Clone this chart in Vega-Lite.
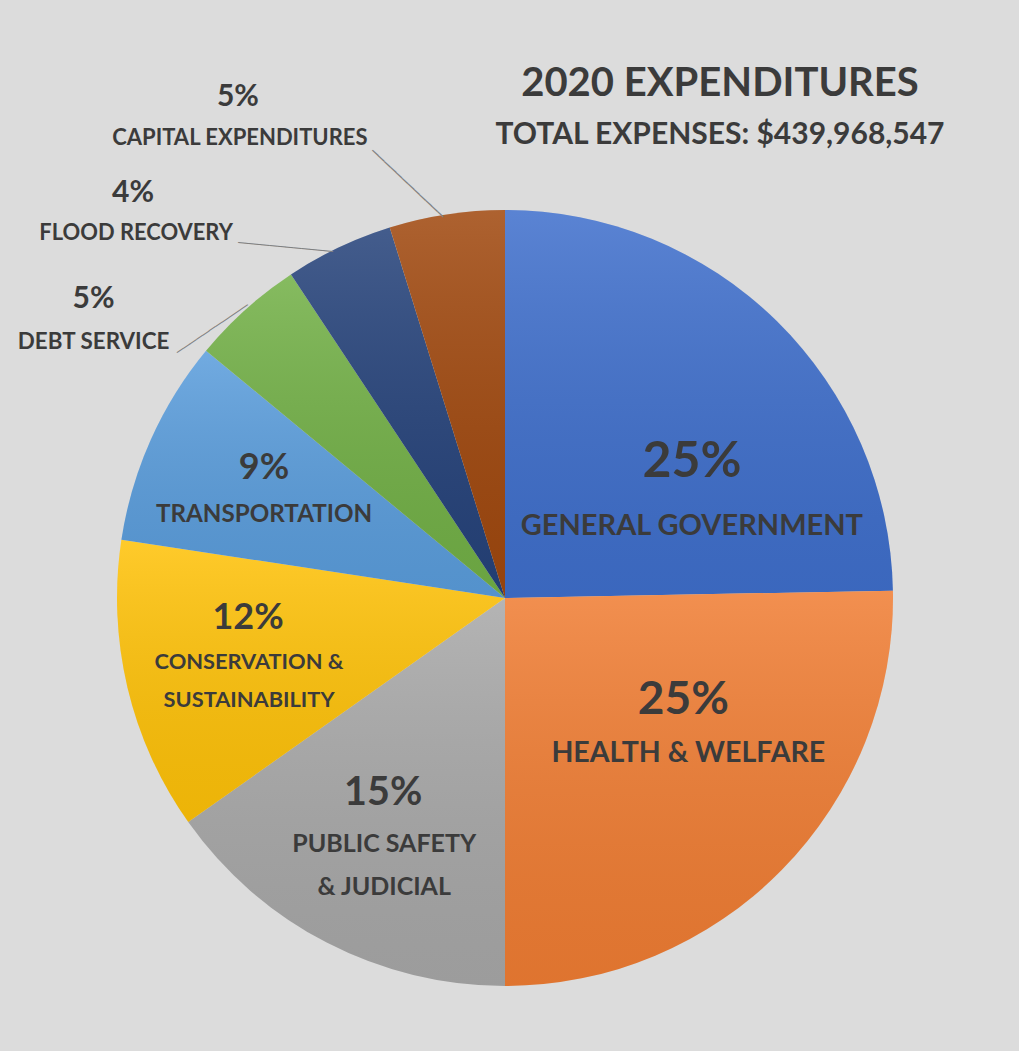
{
  "$schema": "https://vega.github.io/schema/vega-lite/v6.json",
  "autosize": "none",
  "width": 1010,
  "height": 856,
  "padding": {"left": 0, "right": 9, "top": 170, "bottom": 25},
  "background": "#dcdcdc",
  "config": {"view": {"stroke": null}, "font": "Lato"},
  "title": {
    "text": "2020 EXPENDITURES",
    "subtitle": "TOTAL EXPENSES: $439,968,547",
    "anchor": "middle",
    "frame": "group",
    "dx": 215,
    "offset": -68,
    "font": "Lato",
    "fontSize": 40,
    "fontWeight": "bold",
    "color": "#3b3b3b",
    "subtitleFont": "Lato",
    "subtitleFontSize": 30,
    "subtitleFontWeight": "bold",
    "subtitleColor": "#3b3b3b",
    "subtitlePadding": 16
  },
  "data": {
    "values": [
      {"order": 1, "name": "General Government", "value": 24.7, "pct": "25%", "label": "GENERAL GOVERNMENT"},
      {"order": 2, "name": "Health & Welfare", "value": 25.3, "pct": "25%", "label": "HEALTH & WELFARE"},
      {"order": 3, "name": "Public Safety & Judicial", "value": 15.2, "pct": "15%", "label": "PUBLIC SAFETY\n& JUDICIAL"},
      {"order": 4, "name": "Conservation & Sustainability", "value": 12.2, "pct": "12%", "label": "CONSERVATION &\nSUSTAINABILITY"},
      {"order": 5, "name": "Transportation", "value": 8.6, "pct": "9%", "label": "TRANSPORTATION"},
      {"order": 6, "name": "Debt Service", "value": 4.7, "pct": "5%", "label": "DEBT SERVICE"},
      {"order": 7, "name": "Flood Recovery", "value": 4.5, "pct": "4%", "label": "FLOOD RECOVERY"},
      {"order": 8, "name": "Capital Expenditures", "value": 4.8, "pct": "5%", "label": "CAPITAL EXPENDITURES"}
    ]
  },
  "encoding": {
    "theta": {"field": "value", "type": "quantitative", "stack": true},
    "order": {"field": "order", "type": "quantitative"}
  },
  "layer": [
    {
      "mark": {"type": "arc", "radius": 388},
      "encoding": {
        "color": {
          "field": "name",
          "type": "nominal",
          "legend": null,
          "scale": {
            "domain": ["General Government", "Health & Welfare", "Public Safety & Judicial", "Conservation & Sustainability", "Transportation", "Debt Service", "Flood Recovery", "Capital Expenditures"],
            "range": ["#3f6fcc", "#f07d33", "#a8a8a8", "#ffc208", "#5a9ddc", "#72b046", "#25427a", "#a0480e"]
          }
        }
      }
    },
    {
      "mark": {
        "type": "arc",
        "radius": 388,
        "fill": {
          "gradient": "linear", "x1": 0, "y1": 0, "x2": 0, "y2": 1,
          "stops": [
            {"offset": 0, "color": "rgba(255,255,255,0.14)"},
            {"offset": 1, "color": "rgba(0,0,0,0.07)"}
          ]
        }
      },
      "encoding": {"detail": {"field": "name"}}
    },
    {
      "mark": {"type": "text", "radius": 419, "angle": 43.3, "dx": -25, "dy": 24, "font": "DejaVu Sans Mono", "fontSize": 13.5, "color": "#808080", "baseline": "middle", "align": "center"},
      "encoding": {"detail": {"field": "name"}, "text": {"condition": {"test": "datum.order == 8", "value": "────────────"}, "value": ""}}
    },
    {
      "mark": {"type": "text", "radius": 388, "angle": 5.4, "dx": -53, "dy": 5, "font": "DejaVu Sans Mono", "fontSize": 13.2, "color": "#808080", "baseline": "middle", "align": "center"},
      "encoding": {"detail": {"field": "name"}, "text": {"condition": {"test": "datum.order == 7", "value": "────────────"}, "value": ""}}
    },
    {
      "mark": {"type": "text", "radius": 362, "angle": -34.1, "dx": -42, "dy": -28, "font": "DejaVu Sans Mono", "fontSize": 12.9, "color": "#808080", "baseline": "middle", "align": "center"},
      "encoding": {"detail": {"field": "name"}, "text": {"condition": {"test": "datum.order == 6", "value": "───────────"}, "value": ""}}
    },
    {
      "mark": {"type": "text", "radius": 214, "dx": 37, "dy": 17, "fontSize": 50, "fontWeight": "bold", "color": "#3b3b3b", "baseline": "middle", "align": "center"},
      "encoding": {"detail": {"field": "name"}, "text": {"condition": {"test": "datum.order == 1", "field": "pct", "type": "nominal"}, "value": ""}}
    },
    {
      "mark": {"type": "text", "radius": 214, "dx": 37, "dy": 81, "fontSize": 29, "fontWeight": "bold", "color": "#3b3b3b", "baseline": "middle", "align": "center"},
      "encoding": {"detail": {"field": "name"}, "text": {"condition": {"test": "datum.order == 1", "field": "label", "type": "nominal"}, "value": ""}}
    },
    {
      "mark": {"type": "text", "radius": 240, "dx": 7, "dy": -66, "fontSize": 46, "fontWeight": "bold", "color": "#3b3b3b", "baseline": "middle", "align": "center"},
      "encoding": {"detail": {"field": "name"}, "text": {"condition": {"test": "datum.order == 2", "field": "pct", "type": "nominal"}, "value": ""}}
    },
    {
      "mark": {"type": "text", "radius": 240, "dx": 12, "dy": -13, "fontSize": 28.5, "fontWeight": "bold", "color": "#3b3b3b", "baseline": "middle", "align": "center"},
      "encoding": {"detail": {"field": "name"}, "text": {"condition": {"test": "datum.order == 2", "field": "label", "type": "nominal"}, "value": ""}}
    },
    {
      "mark": {"type": "text", "radius": 265, "dx": 0, "dy": -40, "fontSize": 39.5, "fontWeight": "bold", "color": "#3b3b3b", "baseline": "middle", "align": "center"},
      "encoding": {"detail": {"field": "name"}, "text": {"condition": {"test": "datum.order == 3", "field": "pct", "type": "nominal"}, "value": ""}}
    },
    {
      "mark": {"type": "text", "radius": 265, "dx": 1, "dy": 11, "fontSize": 25, "lineBreak": "\n", "lineHeight": 43, "fontWeight": "bold", "color": "#3b3b3b", "baseline": "middle", "align": "center"},
      "encoding": {"detail": {"field": "name"}, "text": {"condition": {"test": "datum.order == 3", "field": "label", "type": "nominal"}, "value": ""}}
    },
    {
      "mark": {"type": "text", "radius": 262, "dx": -2, "dy": -40, "fontSize": 36, "fontWeight": "bold", "color": "#3b3b3b", "baseline": "middle", "align": "center"},
      "encoding": {"detail": {"field": "name"}, "text": {"condition": {"test": "datum.order == 4", "field": "pct", "type": "nominal"}, "value": ""}}
    },
    {
      "mark": {"type": "text", "radius": 262, "dx": -1, "dy": 4, "fontSize": 21.8, "lineBreak": "\n", "lineHeight": 38, "fontWeight": "bold", "color": "#3b3b3b", "baseline": "middle", "align": "center"},
      "encoding": {"detail": {"field": "name"}, "text": {"condition": {"test": "datum.order == 4", "field": "label", "type": "nominal"}, "value": ""}}
    },
    {
      "mark": {"type": "text", "radius": 264, "dx": 0, "dy": -22, "fontSize": 36, "fontWeight": "bold", "color": "#3b3b3b", "baseline": "middle", "align": "center"},
      "encoding": {"detail": {"field": "name"}, "text": {"condition": {"test": "datum.order == 5", "field": "pct", "type": "nominal"}, "value": ""}}
    },
    {
      "mark": {"type": "text", "radius": 264, "dx": 0, "dy": 25, "fontSize": 24.2, "fontWeight": "bold", "color": "#3b3b3b", "baseline": "middle", "align": "center"},
      "encoding": {"detail": {"field": "name"}, "text": {"condition": {"test": "datum.order == 5", "field": "label", "type": "nominal"}, "value": ""}}
    },
    {
      "mark": {"type": "text", "radius": 430, "dx": -124, "dy": 21, "fontSize": 30, "fontWeight": "bold", "color": "#3b3b3b", "baseline": "middle", "align": "center"},
      "encoding": {"detail": {"field": "name"}, "text": {"condition": {"test": "datum.order == 6", "field": "pct", "type": "nominal"}, "value": ""}}
    },
    {
      "mark": {"type": "text", "radius": 430, "dx": -124, "dy": 64, "fontSize": 22.4, "fontWeight": "bold", "color": "#3b3b3b", "baseline": "middle", "align": "center"},
      "encoding": {"detail": {"field": "name"}, "text": {"condition": {"test": "datum.order == 6", "field": "label", "type": "nominal"}, "value": ""}}
    },
    {
      "mark": {"type": "text", "radius": 450, "dx": -179, "dy": 2, "fontSize": 30, "fontWeight": "bold", "color": "#3b3b3b", "baseline": "middle", "align": "center"},
      "encoding": {"detail": {"field": "name"}, "text": {"condition": {"test": "datum.order == 7", "field": "pct", "type": "nominal"}, "value": ""}}
    },
    {
      "mark": {"type": "text", "radius": 450, "dx": -176, "dy": 42, "fontSize": 21.9, "fontWeight": "bold", "color": "#3b3b3b", "baseline": "middle", "align": "center"},
      "encoding": {"detail": {"field": "name"}, "text": {"condition": {"test": "datum.order == 7", "field": "label", "type": "nominal"}, "value": ""}}
    },
    {
      "mark": {"type": "text", "radius": 500, "dx": -192, "dy": -7, "fontSize": 30, "fontWeight": "bold", "color": "#3b3b3b", "baseline": "middle", "align": "center"},
      "encoding": {"detail": {"field": "name"}, "text": {"condition": {"test": "datum.order == 8", "field": "pct", "type": "nominal"}, "value": ""}}
    },
    {
      "mark": {"type": "text", "radius": 500, "dx": -190, "dy": 34, "fontSize": 22, "fontWeight": "bold", "color": "#3b3b3b", "baseline": "middle", "align": "center"},
      "encoding": {"detail": {"field": "name"}, "text": {"condition": {"test": "datum.order == 8", "field": "label", "type": "nominal"}, "value": ""}}
    }
  ]
}
